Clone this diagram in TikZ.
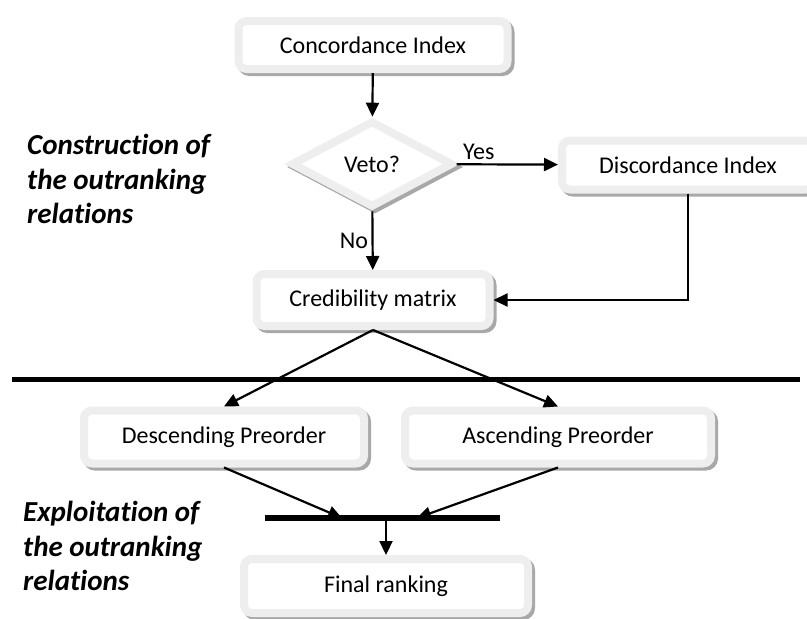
\documentclass[tikz,border=0pt]{standalone}
\usepackage{fontspec}
\setmainfont{Carlito}[Ligatures=NoCommon]
\usetikzlibrary{arrows.meta,shapes.geometric,positioning}
\definecolor{Rim}{RGB}{238,238,238}
\definecolor{Shade}{RGB}{168,168,168}

\tikzset{
  stepbox/.style={rectangle, rounded corners=8pt, draw=Rim, line width=8pt,
    fill=white, outer sep=4pt, inner sep=0pt,
    preaction={draw=Shade, line width=8pt, transform canvas={shift={(3pt,-3pt)}}}},
  decision/.style={stepbox, diamond, sharp corners, minimum width=162pt, minimum height=87pt},
  phase/.style={align=left, inner sep=0pt, font=\fontsize{29}{34.5}\selectfont\bfseries\itshape},
  flow/.style={-{Triangle[length=14pt,width=13pt]}, line width=2.2pt}
}

\begin{document}
\begin{tikzpicture}[x=1pt,y=-1pt,font=\fontsize{24}{29}\selectfont]
   \clip (0,0) rectangle (807,619);

   %Left captions
   \node[phase, anchor=north west] (cons) at (27,134) {Construction of\\the outranking\\relations};
   \node[phase, anchor=north west] (expl) at (23,501) {Exploitation of\\the outranking\\relations};

   %Boxes of the first stage
   \node[stepbox, minimum width=269pt, minimum height=48pt] (conc) at (373,45) {Concordance Index};
   \node[decision] (veto) at (372,164) {Veto?};
   \node[stepbox, minimum width=252pt, minimum height=49pt] (disc) at (688,165) {Discordance Index};
   \node[stepbox, minimum width=233pt, minimum height=52pt] (cred) at (373,300) {Credibility matrix};

   %Boxes of the second stage
   \node[stepbox, minimum width=280pt, minimum height=53pt] (desc) at (224,437) {Descending Preorder};
   \node[stepbox, minimum width=306pt, minimum height=53pt] (asc) at (558,437) {Ascending Preorder};
   \node[stepbox, minimum width=284pt, minimum height=54pt] (final) at (386,586) {Final ranking};

   %Separation line
   \coordinate (sepL) at (12,379);
   \coordinate (sepR) at (800,379);
   \draw[line width=5pt] (sepL) -- (sepR);

   %Merge bar
   \coordinate (barL) at (265,518);
   \coordinate (barR) at (500,518);
   \coordinate (barA) at (342,518);
   \coordinate (barB) at (417,518);
   \coordinate (barC) at (386,518);
   \draw[line width=6pt] (barL) -- (barR);

   %Connectors
   \draw[flow] (conc) -- (veto);
   \draw[flow] (veto) -- node[above, pos=0.22] {Yes} (disc);
   \draw[flow] (veto) -- node[left] {No} (cred);
   \draw[flow] (disc.south) |- (cred.east);
   \draw[flow] (cred.south) -- (desc.north);
   \draw[flow] (cred.south) -- (asc.north);
   \draw[flow] (desc.south) -- (barA);
   \draw[flow] (asc.south) -- (barB);
   \draw[flow] (barC) -- (final.north);
\end{tikzpicture}
\end{document}
